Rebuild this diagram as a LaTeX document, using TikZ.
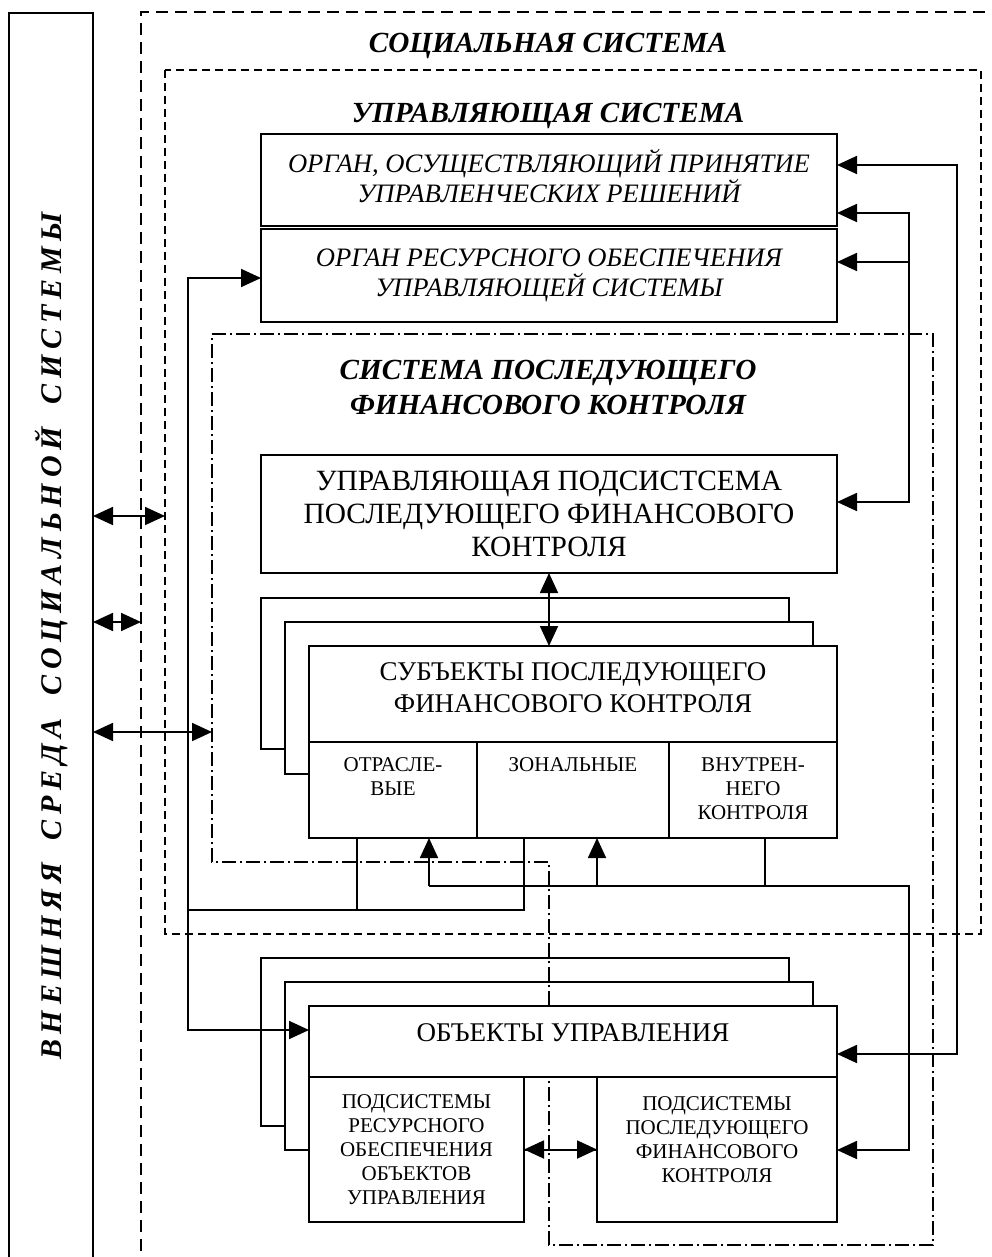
\documentclass[tikz,border=0pt]{standalone}
\usepackage{fontspec}
\setmainfont{Liberation Serif}
\usetikzlibrary{arrows.meta,positioning}

\begin{document}
\begin{tikzpicture}[x=0.5pt,y=-0.5pt,line width=0.9pt,
	every node/.style={inner sep=0pt,outer sep=0pt},
	box/.style={draw,fill=white,align=center},
	ital/.style={font=\fontsize{13.3}{15}\selectfont\itshape},
	big/.style={font=\fontsize{14.7}{16.5}\selectfont},
	mid/.style={font=\fontsize{13.5}{16}\selectfont},
	small/.style={font=\fontsize{10.5}{12}\selectfont,align=center},
	title/.style={font=\fontsize{14.6}{17.5}\selectfont\bfseries\itshape,align=center},
	dashA/.style={dash pattern=on 6pt off 3.5pt},
	dashB/.style={dash pattern=on 4pt off 2.5pt},
	dashdot/.style={dash pattern=on 7pt off 2pt on 1pt off 2pt},
	arr/.style={-{Triangle[length=10pt,width=9pt]}},
	dbl/.style={{Triangle[length=10pt,width=9pt]}-{Triangle[length=10pt,width=9pt]}}]
\useasboundingbox (0,0) rectangle (991,1257);
\clip (0,0) rectangle (991,1257);

% outer environment
\node[draw,rotate=90,minimum width=623pt,minimum height=42pt,
	font=\fontsize{15}{18}\selectfont\bfseries\itshape] (env) at (51,636)
	{\spaceskip=2.9pt В Н Е Ш Н Я Я\hspace{11.4pt}С Р Е Д А\hspace{11.4pt}С О Ц И А Л Ь Н О Й\hspace{11.4pt}С И С Т Е М Ы};

% system frames
\draw[dashA] (141,1270) -- (141,12) -- (1005,12);
\draw[dashB] (165,70) rectangle (981,934);
\node[title] (socT) at (548,46) {СОЦИАЛЬНАЯ СИСТЕМА};
\node[title] (ctrlT) at (548,116) {УПРАВЛЯЮЩАЯ СИСТЕМА};

\node[box,ital,minimum width=288pt,minimum height=46pt,text depth=4pt] (org1) at (549,180)
	{ОРГАН, ОСУЩЕСТВЛЯЮЩИЙ ПРИНЯТИЕ\\УПРАВЛЕНЧЕСКИХ РЕШЕНИЙ};
\node[box,ital,minimum width=288pt,minimum height=46.5pt] (org2) at (549,275.5)
	{ОРГАН РЕСУРСНОГО ОБЕСПЕЧЕНИЯ\\УПРАВЛЯЮЩЕЙ СИСТЕМЫ};

\node[title] (sysT) at (548,387) {СИСТЕМА ПОСЛЕДУЮЩЕГО\\ФИНАНСОВОГО КОНТРОЛЯ};
\node[box,big,minimum width=288pt,minimum height=59pt] (ups) at (549,514)
	{УПРАВЛЯЮЩАЯ ПОДСИСТСЕМА\\ПОСЛЕДУЮЩЕГО ФИНАНСОВОГО\\КОНТРОЛЯ};

% subjects
\node[box,minimum width=264pt,minimum height=75.5pt] (sub3) at (525,673.5) {};
\node[box,minimum width=264pt,minimum height=76pt] (sub2) at (549,698) {};
\node[box,mid,minimum width=264pt,minimum height=48pt,text depth=6pt] (subH) at (573,694)
	{СУБЪЕКТЫ ПОСЛЕДУЮЩЕГО\\ФИНАНСОВОГО КОНТРОЛЯ};
\node[box,minimum width=84pt,minimum height=48pt,below right=0pt of subH.south west] (otr) {};
\node[box,minimum width=96pt,minimum height=48pt,right=0pt of otr] (zon) {};
\node[box,minimum width=84pt,minimum height=48pt,right=0pt of zon] (vnu) {};
\node[small,below=8pt of otr.north] (otrT) {ОТРАСЛЕ-\\ВЫЕ};
\node[small,below=8pt of zon.north] (zonT) {ЗОНАЛЬНЫЕ};
\node[small,below=8pt of vnu.north] (vnuT) {ВНУТРЕН-\\НЕГО\\КОНТРОЛЯ};

% objects
\node[box,minimum width=264pt,minimum height=84pt] (obj3) at (525,1042) {};
\node[box,minimum width=264pt,minimum height=84pt] (obj2) at (549,1066) {};
\draw[dashdot] (212,334) -- (933,334) -- (933,1245) -- (549,1245) -- (549,862) -- (212,862) -- cycle;
\node[box,mid,minimum width=264pt,minimum height=35.5pt,text depth=9pt] (objH) at (573,1041.5)
	{ОБЪЕКТЫ УПРАВЛЕНИЯ};
\node[box,small,minimum width=107.5pt,minimum height=72.5pt,below right=0pt of objH.south west] (resC)
	{ПОДСИСТЕМЫ\\РЕСУРСНОГО\\ОБЕСПЕЧЕНИЯ\\ОБЪЕКТОВ\\УПРАВЛЕНИЯ};
\node[box,minimum width=120pt,minimum height=72.5pt,below left=0pt of objH.south east] (finC) {};
\node[small,below=10pt of finC.north] (finT) {ПОДСИСТЕМЫ\\ПОСЛЕДУЮЩЕГО\\ФИНАНСОВОГО\\КОНТРОЛЯ};

% connectors
\coordinate (rA) at (957,165);
\coordinate (rB) at (957,1054);
\coordinate (rC) at (909,213);
\coordinate (rD) at (909,502);
\coordinate (rE) at (909,262);
\coordinate (rF) at (909,886);
\coordinate (rG) at (909,1150);
\coordinate (fA) at (429,886);
\coordinate (fZ) at (597,886);
\coordinate (fV) at (765,886);
\coordinate (lA) at (188,278);
\coordinate (lB) at (188,1030);
\coordinate (lC) at (188,910);
\coordinate (lO) at (357,910);
\coordinate (lZ) at (524,910);
\coordinate (eA) at (165,516);
\coordinate (eB) at (141,622);
\coordinate (eC) at (212,732);

\draw[dbl] (rA -| org1.east) -- (rA) -- (rB) -- (rB -| objH.east);
\draw[dbl] (rC -| org1.east) -- (rC) -- (rD) -- (rD -| ups.east);
\draw[arr] (rE) -- (rE -| org2.east);
\draw[dbl] (ups.south) -- (ups.south |- subH.north);
\draw (vnu.south -| fV) -- (fV);
\draw[arr] (fA) -- (fA |- otr.south);
\draw[arr] (fZ) -- (fZ |- zon.south);
\draw[arr] (fA) -- (rF) -- (rG) -- (rG -| finC.east);
\draw[dbl] (lA -| org2.west) -- (lA) -- (lB) -- (lB -| objH.west);
\draw (lC) -- (lZ) -- (lZ |- zon.south);
\draw (lO) -- (lO |- otr.south);
\draw[dbl] (resC.east) -- (finC.west);
\draw[dbl] (env.south |- eA) -- (eA);
\draw[dbl] (env.south |- eB) -- (eB);
\draw[dbl] (env.south |- eC) -- (eC);
\end{tikzpicture}
\end{document}
